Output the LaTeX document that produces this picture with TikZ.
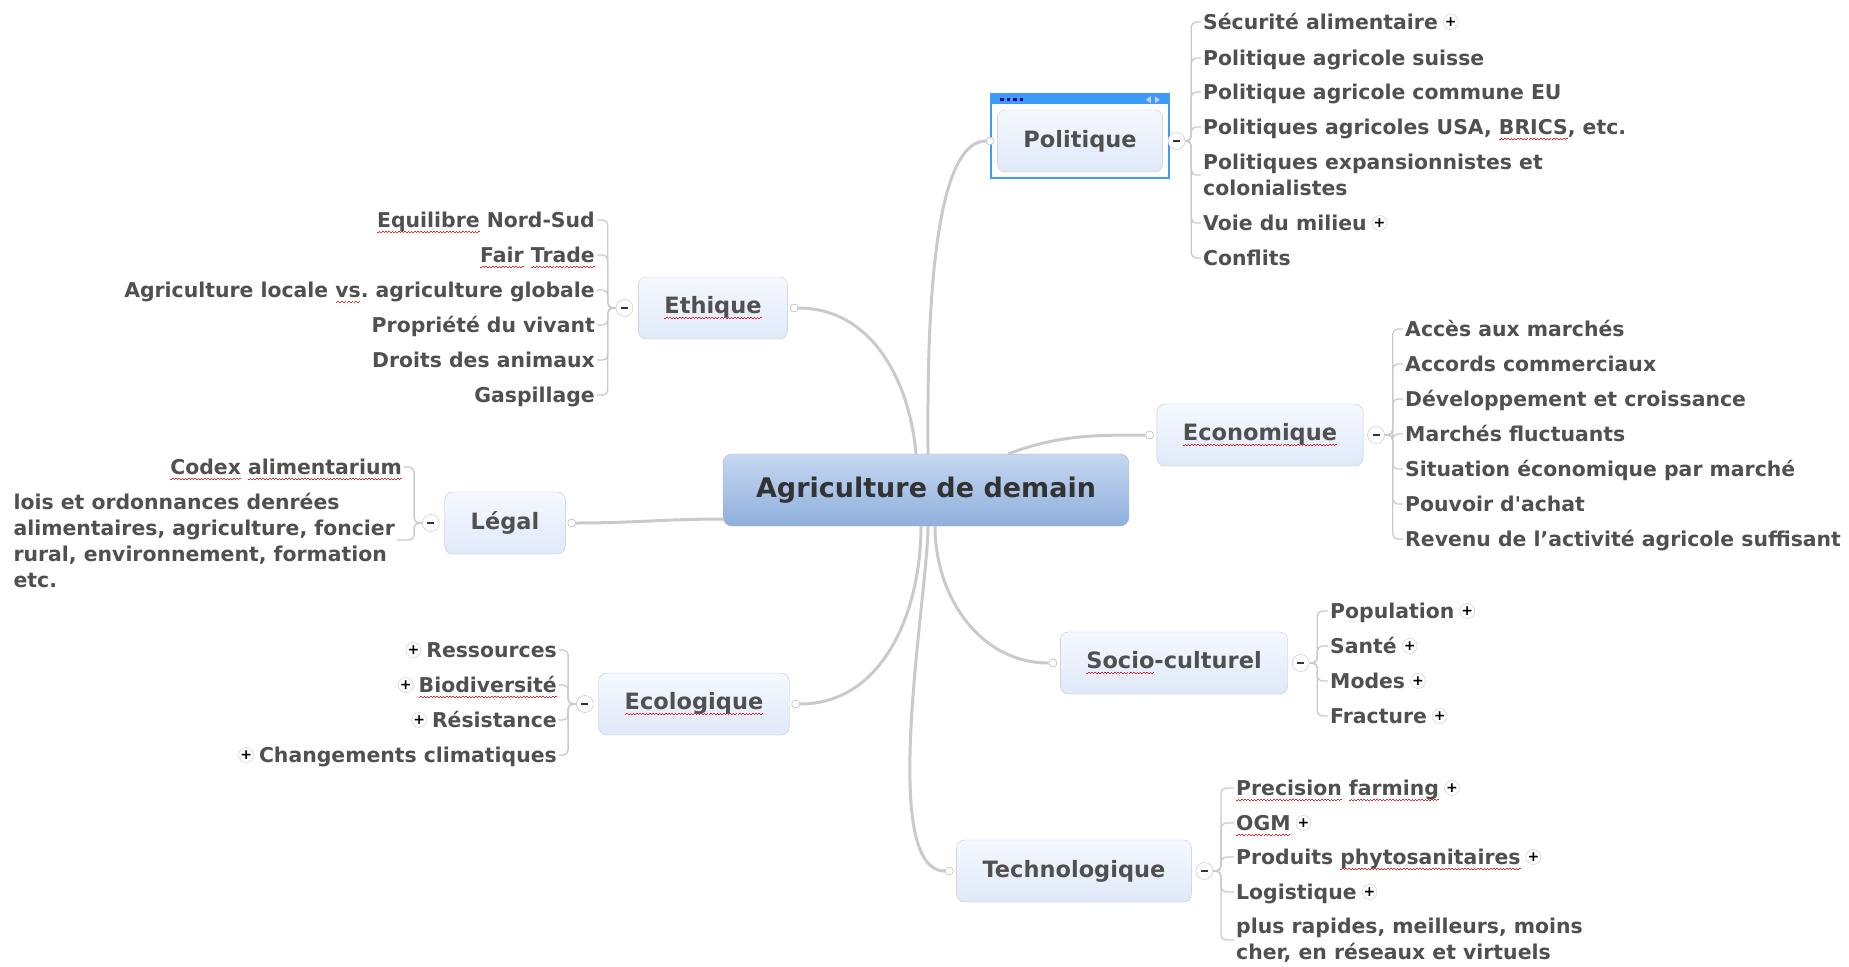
\documentclass[tikz,border=0pt]{standalone}
\usepackage{fontspec}
\setmainfont{DejaVu Sans}
\newfontfamily\plainquote{DejaVu Sans}[Ligatures=TeXOff]
\usetikzlibrary{positioning}

\definecolor{linegray}{HTML}{CACACA}
\definecolor{inkgray}{HTML}{505050}
\definecolor{selblue}{HTML}{3D9BF8}
\definecolor{spellred}{HTML}{E3262B}
\definecolor{maintop}{HTML}{C6D8F1}
\definecolor{mainbot}{HTML}{8FAFDD}
\definecolor{boxtop}{HTML}{F5F8FE}
\definecolor{boxbot}{HTML}{E0E9F9}

% red wavy underline of the spell checker
\newbox\typobox
\newcommand\typo[1]{\setbox\typobox\hbox{#1}\rlap{\color{spellred}\hbox to\wd\typobox{\xleaders\hbox{\rule[-5.6pt]{1.6pt}{1.2pt}\rule[-4.4pt]{1.6pt}{1.2pt}}\hfil}}\box\typobox}
\frenchspacing

\begin{document}
\begin{tikzpicture}[x=1pt, y=-1pt,
    main/.style = {draw=black!30, rounded corners=9pt, top color=maintop, bottom color=mainbot,
        text=black!80, font=\fontsize{27}{32}\selectfont\bfseries, inner xsep=33pt, minimum height=72pt},
    branch/.style = {draw=black!22, rounded corners=8pt, top color=boxtop, bottom color=boxbot,
        text=inkgray, font=\fontsize{22.5}{27}\selectfont\bfseries, inner xsep=26pt, minimum height=62pt},
    leaf/.style = {inner xsep=2pt, inner ysep=1pt, text=inkgray, font=\fontsize{20.4}{26}\selectfont\bfseries,
        text height=17pt, text depth=2pt},
    wrap/.style = {text height=, text depth=, align=left},
    bare/.style = {},
    more/.style = {label={[expand]right:+}},
    lmore/.style = {label={[expand]left:+}},
    expand/.style = {circle, draw=black!22, fill=white, inner sep=0pt, minimum size=15pt, text=black,
        font=\fontsize{14}{14}\selectfont\bfseries, label distance=3pt},
    fold/.style = {circle, draw=black!25, fill=white, inner sep=0pt, minimum size=17pt, text=black!80},
    dot/.style = {circle, draw=black!35, fill=white, inner sep=0pt, minimum size=8pt},
    link/.style = {draw=linegray, line width=3pt},
    twig/.style = {draw=linegray, line width=1.3pt, rounded corners=5pt}]

    \useasboundingbox (0,0) rectangle (1849,966);

    \node[main] (0) at (926,490) {Agriculture de demain};

    % Politique (selected)
    \node[branch] (1) at (1080,141) {Politique};
    \draw[selblue, line width=2.5pt] ([shift={(-6,-16)}]1.north west) rectangle ([shift={(6,6)}]1.south east);
    \fill[selblue] ([shift={(-6,-16)}]1.north west) rectangle ([shift={(6,-6)}]1.north east);
    \foreach \k in {0,...,3}
        \fill[blue!55!black] ([shift={(3+6.5*\k,-12)}]1.north west) rectangle ++(3.5,3);
    \fill[blue!20] ([shift={(-17,-10)}]1.north east) -- ++(5,-3.5) -- ++(0,7) -- cycle;
    \fill[blue!20] ([shift={(-3,-10)}]1.north east) -- ++(-5,-3.5) -- ++(0,7) -- cycle;
    \node[dot, left=3pt of 1] (1d) {};
    \node[fold, right=5pt of 1] (1m) {\rule{7pt}{2pt}};
    \foreach \y/\t/\s [count=\i] in {
        22/{Sécurité alimentaire}/more,
        58/{Politique agricole suisse}/bare,
        92/{Politique agricole commune EU}/bare,
        127/{Politiques agricoles USA, \typo{BRICS}, etc.}/bare,
        175/{Politiques expansionnistes et\\colonialistes}/wrap,
        223/{Voie du milieu}/more,
        258/{Conflits}/bare} {
        \node[leaf, anchor=west, \s] (1-\i) at (1201,\y) {\t};
        \draw[twig] (1m.east) -- ++(6,0) |- (1-\i.west);
    }

    % Ethique
    \node[branch] (2) at (713,308) {\typo{Ethique}};
    \node[dot, right=2pt of 2] (2d) {};
    \node[fold, left=5pt of 2] (2m) {\rule{7pt}{2pt}};
    \foreach \y/\t [count=\i] in {
        220/{\typo{Equilibre} Nord-Sud},
        255/{\typo{Fair} \typo{Trade}},
        290/{Agriculture locale \typo{vs}. agriculture globale},
        325/{Propriété du vivant},
        360/{Droits des animaux},
        395/{Gaspillage}} {
        \node[leaf, anchor=east] (2-\i) at (597,\y) {\t};
        \draw[twig] (2m.west) -- ++(-8,0) |- (2-\i.east);
    }

    % Economique
    \node[branch] (3) at (1260,435) {\typo{Economique}};
    \node[dot, left=3pt of 3] (3d) {};
    \node[fold, right=4pt of 3] (3m) {\rule{7pt}{2pt}};
    \foreach \y/\t [count=\i] in {
        329/{Accès aux marchés},
        364/{Accords commerciaux},
        399/{Développement et croissance},
        434/{Marchés fluctuants},
        469/{Situation économique par marché},
        504/{Pouvoir d{\plainquote'}achat},
        539/{Revenu de l'activité agricole suffisant}} {
        \node[leaf, anchor=west] (3-\i) at (1403,\y) {\t};
        \draw[twig] (3m.east) -- ++(8,0) |- (3-\i.west);
    }

    % Legal
    \node[branch] (4) at (505,523) {Légal};
    \node[dot, right=2pt of 4] (4d) {};
    \node[fold, left=5pt of 4] (4m) {\rule{7pt}{2pt}};
    \node[leaf, anchor=east] (4-1) at (404,467) {\typo{Codex} \typo{alimentarium}};
    \node[leaf, wrap, anchor=east] (4-2) at (397,540) {lois et ordonnances denrées\\alimentaires, agriculture, foncier\\rural, environnement, formation\\etc.};
    \draw[twig] (4m.west) -- ++(-8,0) |- (4-1.east);
    \draw[twig] (4m.west) -- ++(-8,0) |- (4-2.east);

    % Socio-culturel
    \node[branch] (5) at (1174,663) {\typo{Socio}-culturel};
    \node[dot, left=3pt of 5] (5d) {};
    \node[fold, right=4pt of 5] (5m) {\rule{7pt}{2pt}};
    \foreach \y/\t [count=\i] in {611/Population, 646/Santé, 681/Modes, 716/Fracture} {
        \node[leaf, anchor=west, more] (5-\i) at (1328,\y) {\t};
        \draw[twig] (5m.east) -- ++(8,0) |- (5-\i.west);
    }

    % Ecologique
    \node[branch] (6) at (694,704) {\typo{Ecologique}};
    \node[dot, right=2pt of 6] (6d) {};
    \node[fold, left=5pt of 6] (6m) {\rule{7pt}{2pt}};
    \foreach \y/\t [count=\i] in {
        650/{Ressources},
        685/{\typo{Biodiversité}},
        720/{Résistance},
        755/{Changements climatiques}} {
        \node[leaf, anchor=east, lmore] (6-\i) at (559,\y) {\t};
        \draw[twig] (6m.west) -- ++(-8,0) |- (6-\i.east);
    }

    % Technologique
    \node[branch] (7) at (1074,871) {Technologique};
    \node[dot, left=3pt of 7] (7d) {};
    \node[fold, right=4pt of 7] (7m) {\rule{7pt}{2pt}};
    \foreach \y/\t/\s [count=\i] in {
        788/{\typo{Precision} \typo{farming}}/more,
        823/{\typo{OGM}}/more,
        857/{Produits \typo{phytosanitaires}}/more,
        892/{Logistique}/more,
        940/{plus rapides, meilleurs, moins\\cher, en réseaux et virtuels}/wrap} {
        \node[leaf, anchor=west, \s] (7-\i) at (1234,\y) {\t};
        \draw[twig] (7m.east) -- ++(8,0) |- (7-\i.west);
    }

    % links from the centre
    \draw[link] ([xshift=2pt]0.north) to[out=90, in=180, looseness=.5] (1d);
    \draw[link] ([xshift=-10pt]0.north) to[out=95, in=0] (2d);
    \draw[link] ([xshift=82pt]0.north) to[out=20, in=180] (3d);
    \draw[link] ([shift={(1,29)}]0.west) to[out=180, in=0] (4d);
    \draw[link] ([xshift=9pt]0.south) to[out=-90, in=180] (5d);
    \draw[link] ([xshift=-5pt]0.south) to[out=-90, in=0] (6d);
    \draw[link] ([xshift=2pt]0.south) to[out=-90, in=180, looseness=.5] (7d);

\end{tikzpicture}
\end{document}
